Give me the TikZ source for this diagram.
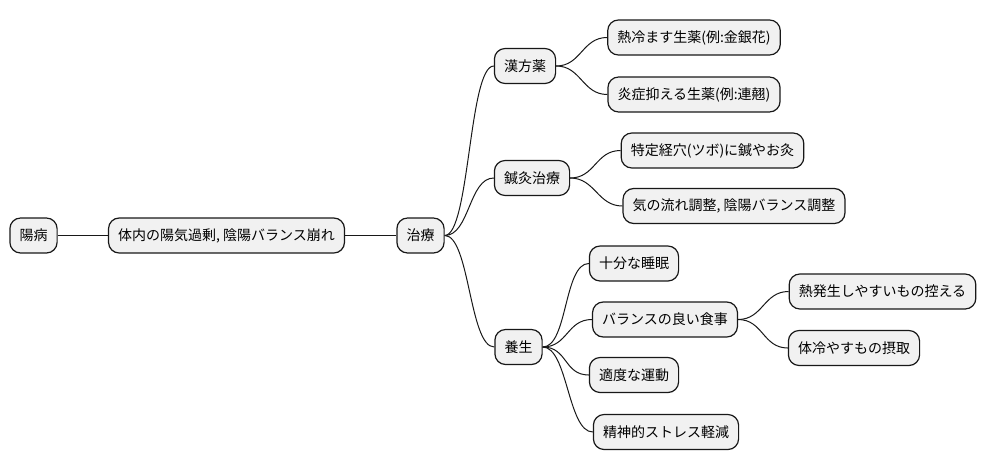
\documentclass[tikz,border=0pt]{standalone}
\usepackage{fontspec}
\setmainfont{Noto Sans CJK JP}
\definecolor{boxgray}{HTML}{F1F1F1}
\definecolor{linedark}{HTML}{181818}
\begin{document}
\begin{tikzpicture}[x=0.75pt,y=-0.75pt,
    topic/.style={draw=\LINECOLOR,fill=\BOXCOLOR,line width=0.9pt,rounded corners=8pt,
      minimum height=26.25pt,inner xsep=7.2pt,inner ysep=0pt,
      font=\fontsize{10.5}{12}\selectfont},
    branch/.style={draw=\LINECOLOR,line width=0.75pt}]

\def\BOXCOLOR{boxgray}
\def\LINECOLOR{linedark}
	\useasboundingbox (0,0) rectangle (987,471);
	\node[topic] (yangbyo) at (33.5,235.5) {陽病};
	\node[topic] (kajo) at (226.5,235.5) {体内の陽気過剰, 陰陽バランス崩れ};
	\node[topic] (chiryo) at (420.5,235.5) {治療};
	\node[topic] (kampo) at (525,66) {漢方薬};
	\node[topic] (netsu) at (694,37.5) {熱冷ます生薬(例:金銀花)};
	\node[topic] (ensho) at (694,94.5) {炎症抑える生薬(例:連翹)};
	\node[topic] (shinkyu) at (532,178) {鍼灸治療};
	\node[topic] (tsubo) at (712.5,150.5) {特定経穴(ツボ)に鍼やお灸};
	\node[topic] (ki) at (734,206) {気の流れ調整, 陰陽バランス調整};
	\node[topic] (yojo) at (518.5,347) {養生};
	\node[topic] (suimin) at (634,263.5) {十分な睡眠};
	\node[topic] (shokuji) at (665,319.5) {バランスの良い食事};
	\node[topic] (hikaeru) at (882.5,291.5) {熱発生しやすいもの控える};
	\node[topic] (hiyasu) at (854,348) {体冷やすもの摂取};
	\node[topic] (undo) at (634,375) {適度な運動};
	\node[topic] (stress) at (666,432) {精神的ストレス軽減};

	\draw[branch] (yangbyo.east) -- (kajo.west);
	\draw[branch] (kajo.east) -- (chiryo.west);
	\draw[branch] (chiryo.east) .. controls +(25,0) and +(-25,0) .. (kampo.west);
	\draw[branch] (chiryo.east) .. controls +(25,0) and +(-25,0) .. (shinkyu.west);
	\draw[branch] (chiryo.east) .. controls +(25,0) and +(-25,0) .. (yojo.west);
	\draw[branch] (kampo.east) .. controls +(25,0) and +(-25,0) .. (netsu.west);
	\draw[branch] (kampo.east) .. controls +(25,0) and +(-25,0) .. (ensho.west);
	\draw[branch] (shinkyu.east) .. controls +(25,0) and +(-25,0) .. (tsubo.west);
	\draw[branch] (shinkyu.east) .. controls +(25,0) and +(-25,0) .. (ki.west);
	\draw[branch] (yojo.east) .. controls +(25,0) and +(-25,0) .. (suimin.west);
	\draw[branch] (yojo.east) .. controls +(25,0) and +(-25,0) .. (shokuji.west);
	\draw[branch] (yojo.east) .. controls +(25,0) and +(-25,0) .. (undo.west);
	\draw[branch] (yojo.east) .. controls +(25,0) and +(-25,0) .. (stress.west);
	\draw[branch] (shokuji.east) .. controls +(25,0) and +(-25,0) .. (hikaeru.west);
	\draw[branch] (shokuji.east) .. controls +(25,0) and +(-25,0) .. (hiyasu.west);

          \end{tikzpicture}
\end{document}
